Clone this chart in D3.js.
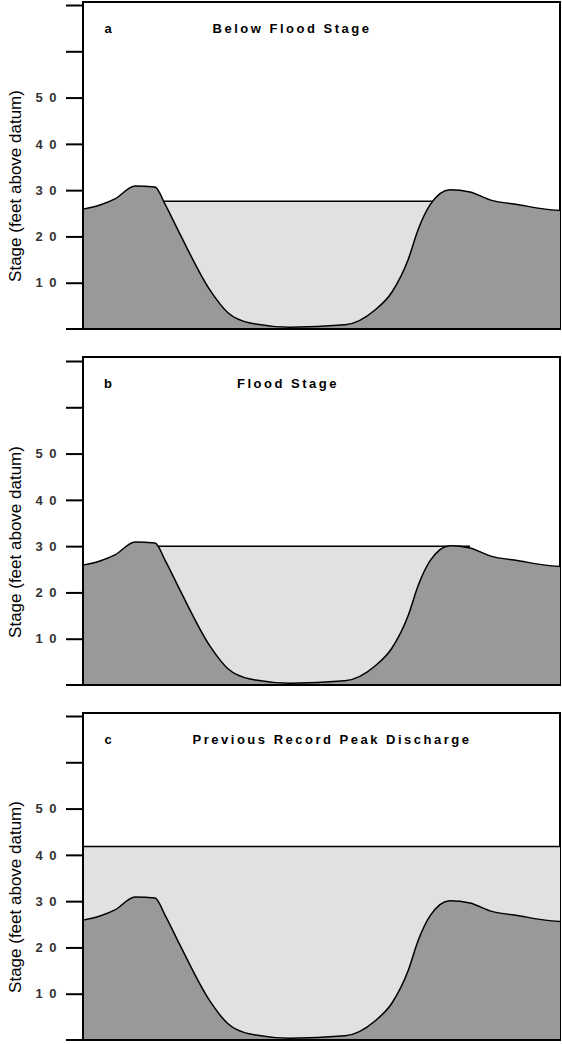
<!DOCTYPE html>
<html><head><meta charset="utf-8">
<script src="https://cdn.jsdelivr.net/npm/d3@7"></script>
<style>body{margin:0;background:#fff}</style>
</head><body><svg width="562" height="1044"></svg>
<script>
// cross-section: distance (arbitrary units) and ground stage (feet)
var distance = [0, 17, 32, 52, 72, 82, 97, 127, 145, 167, 207, 262, 292, 309, 325, 335, 347, 367, 387, 407, 437, 462, 477];
var ground   = [25.9, 26.8, 28.1, 30.9, 30.7, 27.0, 20.5, 8.4, 3.5, 1.3, 0.4, 0.9, 4.1, 8.0, 14.9, 21.4, 26.8, 30.1, 29.6, 27.9, 26.8, 25.9, 25.6];
var panelLetters = ["a", "b", "c"];
var panelTitles = ["Below Flood Stage", "Flood Stage", "Previous Record Peak Discharge"];
var waterStage = [27.6, 30.0, 41.8];
var tickValues = [10, 20, 30, 40, 50, 60, 70];
var tickLabels = ["1 0", "2 0", "3 0", "4 0", "5 0", "", ""];

var svg = d3.select("svg");
var panelTop = [2, 357, 713], panelBottom = [329, 685, 1040];
var left = 83, right = 560;
var x = d3.scaleLinear().domain([0, 477]).range([left, right]);
var data = distance.map(function(d, i) { return [d, ground[i]]; });

panelTop.forEach(function(top, p) {
  var bottom = panelBottom[p];
  var y = d3.scaleLinear().domain([0, 70]).range([bottom, bottom - 324]);
  var g = svg.append("g");
  g.append("rect").attr("x", left).attr("y", top).attr("width", right - left).attr("height", bottom - top)
    .attr("fill", "#fff").attr("stroke", "#000").attr("stroke-width", 2);
  // water
  var lo = p === 2 ? 0 : (p === 1 ? 52 : 77), hi = p === 2 ? 477 : (p === 1 ? 387 : 352);
  g.append("rect").attr("x", x(lo)).attr("y", y(waterStage[p])).attr("width", x(hi) - x(lo))
    .attr("height", bottom - y(waterStage[p])).attr("fill", "#e1e1e1");
  g.append("line").attr("x1", x(lo)).attr("x2", x(hi)).attr("y1", y(waterStage[p])).attr("y2", y(waterStage[p]))
    .attr("stroke", "#000").attr("stroke-width", 1.5);
  // ground
  var area = d3.area().curve(d3.curveMonotoneX).x(function(d) { return x(d[0]); }).y0(bottom).y1(function(d) { return y(d[1]); });
  g.append("path").datum(data).attr("d", area).attr("fill", "#999");
  g.append("path").datum(data).attr("fill", "none").attr("stroke", "#000").attr("stroke-width", 1.5)
    .attr("d", d3.line().curve(d3.curveMonotoneX).x(function(d) { return x(d[0]); }).y(function(d) { return y(d[1]); }));
  // axis
  var axis = g.append("g").attr("transform", "translate(" + left + ",0)")
    .call(d3.axisLeft(y).tickValues(tickValues).tickSize(17).tickFormat(function(d, i) { return tickLabels[i]; }));
  axis.select(".domain").remove();
  axis.selectAll("line").attr("stroke-width", 2);
  axis.selectAll("text").attr("x", -25).attr("font-family", "Liberation Sans, Arial").attr("font-weight", "bold")
    .attr("font-size", 13).attr("letter-spacing", 1.5).attr("fill", "#333");
  g.append("line").attr("x1", 66).attr("x2", right).attr("y1", bottom).attr("y2", bottom).attr("stroke", "#000").attr("stroke-width", 2);
  g.append("line").attr("x1", left).attr("x2", left).attr("y1", top).attr("y2", bottom).attr("stroke", "#000").attr("stroke-width", 2);
  // texts
  g.append("text").attr("x", 108).attr("y", top + 31).attr("font-family", "Liberation Sans, Arial")
    .attr("font-weight", "bold").attr("font-size", 13).attr("text-anchor", "middle").text(panelLetters[p]);
  g.append("text").attr("x", p === 2 ? 332 : (p === 1 ? 288 : 292)).attr("y", top + 31)
    .attr("font-family", "Liberation Sans Narrow, Liberation Sans, Arial").attr("font-weight", "bold")
    .attr("font-size", 13).attr("letter-spacing", 2.5).attr("text-anchor", "middle").text(panelTitles[p]);
  g.append("text").attr("transform", "translate(21," + (bottom - 143) + ") rotate(-90)")
    .attr("font-family", "Liberation Sans, Arial").attr("font-size", 17).attr("text-anchor", "middle")
    .text("Stage (feet above datum)");
});
</script></body></html>
